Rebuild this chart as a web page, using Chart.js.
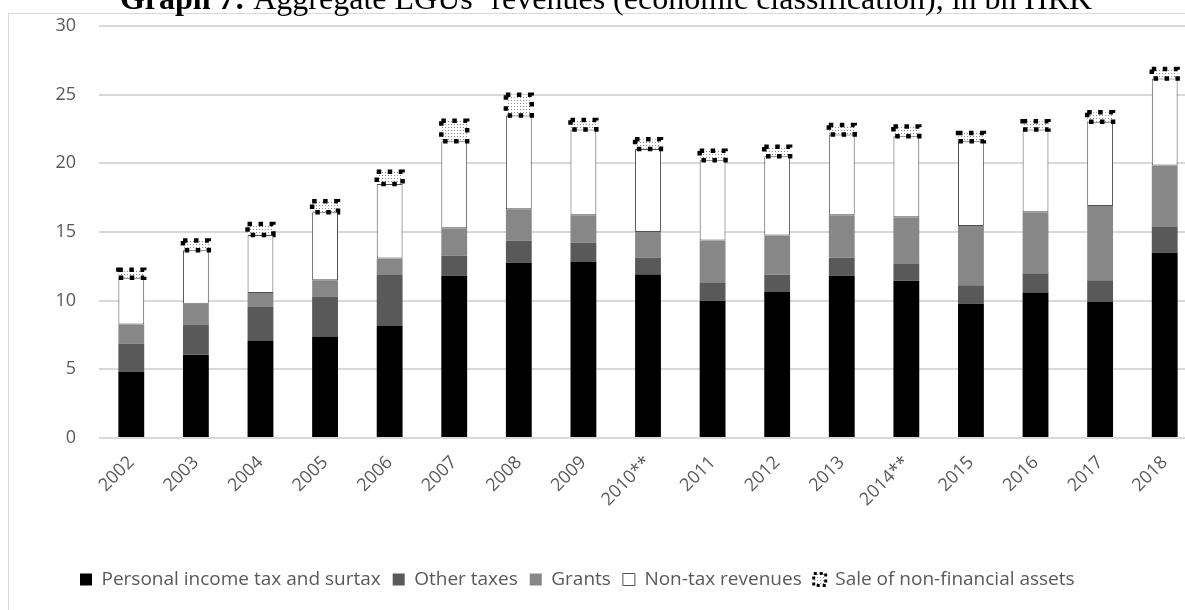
<!DOCTYPE html>
<html>
<head>
<meta charset="utf-8">
<script src="https://cdn.jsdelivr.net/npm/chart.js@4/dist/chart.umd.min.js"></script>
<style>
  html, body { margin: 0; padding: 0; background: #fff; overflow: hidden; }
  #wrap { width: 1197px; height: 610px; }
</style>
</head>
<body>
<div id="wrap"><canvas id="revChart" width="1197" height="610"></canvas></div>
<script>
// LGU revenues by economic classification, bn HRK
const years = ["2002", "2003", "2004", "2005", "2006", "2007", "2008", "2009", "2010**",
  "2011", "2012", "2013", "2014**", "2015", "2016", "2017", "2018"];
const incomeTax = [4.85, 6.07, 7.1, 7.39, 8.15, 11.8, 12.76, 12.83, 11.9, 9.98, 10.63, 11.8, 11.44, 9.76, 10.59, 9.9, 13.49];
const otherTaxes = [2.0, 2.2, 2.48, 2.88, 3.72, 1.47, 1.61, 1.39, 1.22, 1.31, 1.27, 1.32, 1.27, 1.36, 1.36, 1.54, 1.9];
const grants = [1.42, 1.51, 0.98, 1.22, 1.2, 2.0, 2.29, 2.0, 1.88, 3.1, 2.85, 3.1, 3.36, 4.32, 4.49, 5.46, 4.46];
const nonTax = [3.39, 3.9, 4.22, 4.95, 5.42, 6.33, 6.83, 6.24, 6.05, 5.83, 5.76, 5.88, 5.91, 6.17, 6.02, 6.12, 6.32];
const assetSales = [0.6, 0.7, 0.8, 0.8, 0.9, 1.5, 1.5, 0.7, 0.7, 0.7, 0.7, 0.7, 0.7, 0.6, 0.6, 0.7, 0.7];
const yTicks = [0, 5, 10, 15, 20, 25, 30];

const FONT = "'Open Sans', 'DejaVu Sans', sans-serif";
const TEXT_COLOR = "#595959";
const TITLE_FONT = "32px 'Liberation Serif', 'Times New Roman', serif";

// light stipple used for the asset sales segment
function makeDots() {
  const c = document.createElement("canvas");
  c.width = 3;
  c.height = 3;
  const g = c.getContext("2d");
  g.fillStyle = "#ffffff";
  g.fillRect(0, 0, 3, 3);
  g.fillStyle = "#8c8c8c";
  g.fillRect(1, 1, 1, 1);
  return g.createPattern(c, "repeat");
}
const dots = makeDots();

// heading and outer frame
const framePlugin = {
  id: "frame",
  beforeDraw(chart) {
    const ctx = chart.ctx;
    ctx.save();
    ctx.strokeStyle = "#d9d9d9";
    ctx.lineWidth = 1;
    ctx.strokeRect(8.5, 13.5, chart.width + 10, chart.height);

    const bold = "Graph 7:";
    const rest = " Aggregate LGUs’ revenues (economic classification), in bn HRK";
    ctx.textBaseline = "alphabetic";
    ctx.fillStyle = "#000";
    ctx.font = "bold " + TITLE_FONT;
    const w1 = ctx.measureText(bold).width;
    ctx.font = TITLE_FONT;
    const w2 = ctx.measureText(rest).width;
    const x0 = 606 - (w1 + w2) / 2;
    ctx.font = "bold " + TITLE_FONT;
    ctx.fillText(bold, x0, 9);
    ctx.font = TITLE_FONT;
    ctx.fillText(rest, x0 + w1, 9);
    ctx.restore();
  }
};

// legend sits a little in from the left edge, under the plot
const legendShift = {
  id: "legendShift",
  afterLayout(chart) {
    chart.legend.left += 68;
    chart.legend.right += 68;
  }
};

// dotted outline around the asset sales segment
const dottedBorder = {
  id: "dottedBorder",
  afterDatasetsDraw(chart) {
    const ctx = chart.ctx;
    const meta = chart.getDatasetMeta(4);
    if (meta.hidden) return;
    ctx.save();
    ctx.strokeStyle = "#000";
    ctx.lineWidth = 4.5;
    ctx.setLineDash([4.5, 6.5]);
    meta.data.forEach((bar) => {
      const p = bar.getProps(["x", "y", "base", "width"], true);
      ctx.strokeRect(p.x - p.width / 2, p.y, p.width, p.base - p.y);
    });
    ctx.restore();
  }
};

const ctx = document.getElementById("revChart").getContext("2d");
const revChart = new Chart(ctx, {
  type: "bar",
  data: {
    labels: years,
    datasets: [
      { label: "Personal income tax and surtax", data: incomeTax, backgroundColor: "#000000", borderWidth: 0 },
      { label: "Other taxes", data: otherTaxes, backgroundColor: "#595959", borderWidth: 0 },
      { label: "Grants", data: grants, backgroundColor: "#878787", borderWidth: 0 },
      { label: "Non-tax revenues", data: nonTax, backgroundColor: "#ffffff", borderColor: "#505050", borderWidth: 1, borderSkipped: false },
      { label: "Sale of non-financial assets", data: assetSales, backgroundColor: dots, borderColor: "#000", borderWidth: 0 }
    ]
  },
  options: {
    responsive: false,
    animation: false,
    layout: { padding: { top: 26, left: 0, right: 0, bottom: 11 } },
    datasets: { bar: { barPercentage: 0.8, categoryPercentage: 0.5 } },
    plugins: {
      title: { display: false },
      tooltip: { enabled: false },
      legend: {
        position: "bottom",
        align: "start",
        labels: {
          color: TEXT_COLOR,
          font: { family: FONT, size: 19 },
          boxWidth: 12,
          boxHeight: 12,
          padding: 12,
          generateLabels(chart) {
            const items = Chart.defaults.plugins.legend.labels.generateLabels(chart);
            items.forEach((it, i) => {
              if (i === 4) {
                it.lineWidth = 3;
                it.lineDash = [3, 3];
                it.strokeStyle = "#000";
              }
            });
            return items;
          }
        }
      }
    },
    scales: {
      x: {
        stacked: true,
        grid: { display: false },
        border: { display: false },
        ticks: {
          color: TEXT_COLOR,
          font: { family: FONT, size: 18 },
          maxRotation: 45,
          minRotation: 45,
          padding: 6,
          autoSkip: false
        },
        afterFit(scale) { scale.height = 120; }
      },
      y: {
        stacked: true,
        min: 0,
        max: 30,
        border: { display: false },
        grid: { color: "#d9d9d9", lineWidth: 2, drawTicks: true, tickLength: 20, tickColor: "rgba(0,0,0,0)" },
        ticks: {
          color: TEXT_COLOR,
          font: { family: FONT, size: 18 },
          padding: 3,
          stepSize: 5,
          callback: (v) => (yTicks.includes(v) ? String(v) : "")
        },
        afterFit(scale) { scale.width = 99; }
      }
    }
  },
  plugins: [framePlugin, legendShift, dottedBorder]
});
</script>
</body>
</html>
